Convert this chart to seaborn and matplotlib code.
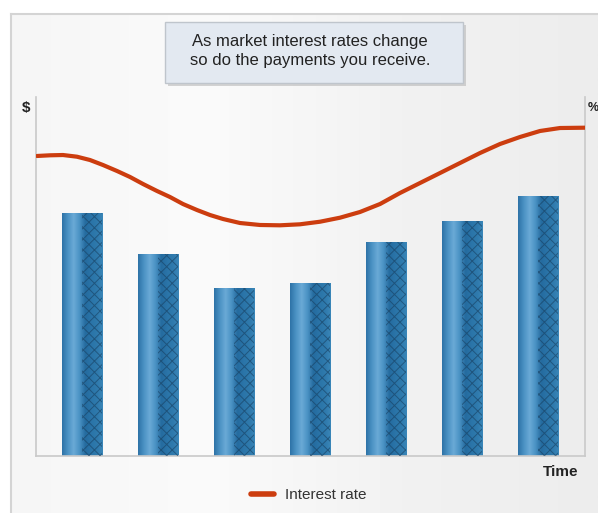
import numpy as np
import pandas as pd
import matplotlib
matplotlib.use('Agg')
import matplotlib.pyplot as plt
from matplotlib.colors import LinearSegmentedColormap
from matplotlib.patches import Rectangle
import seaborn as sns

# data
periods = ['P1', 'P2', 'P3', 'P4', 'P5', 'P6', 'P7']
payments = [6.77, 5.63, 4.68, 4.82, 5.96, 6.55, 7.24]

rate_t = [-0.592, -0.421, -0.25, -0.066, 0.105, 0.276, 0.461, 0.632, 0.803,
          0.987, 1.158, 1.329, 1.513, 1.684, 1.855, 2.079, 2.342, 2.605,
          2.868, 3.132, 3.395, 3.658, 3.921, 4.184, 4.447, 4.711, 4.974,
          5.237, 5.5, 5.763, 6.026, 6.289, 6.618]
rate_val = [8.357, 8.376, 8.384, 8.337, 8.245, 8.106, 7.939, 7.772, 7.577,
            7.382, 7.214, 7.019, 6.852, 6.713, 6.602, 6.490, 6.435, 6.426,
            6.454, 6.526, 6.638, 6.797, 7.019, 7.326, 7.604, 7.883, 8.162,
            8.440, 8.691, 8.886, 9.053, 9.136, 9.145]

sns.set_theme(style='white')
plt.rcParams['font.family'] = ['Liberation Sans', 'DejaVu Sans']
plt.rcParams['hatch.linewidth'] = 0.7

W, H = 598, 513
fig = plt.figure(figsize=(W / 100, H / 100), dpi=100)
fig.patch.set_facecolor('white')

# panel background with soft gradient
bg = fig.add_axes([11 / W, 0, 1 - 11 / W, 1 - 14 / H], zorder=-10)
grad = np.linspace(0, 1, 256).reshape(1, -1)
bg_cmap = LinearSegmentedColormap.from_list('bg', ['#f6f6f6', '#fbfbfb', '#f2f2f2', '#ededed'])
bg.imshow(grad, aspect='auto', cmap=bg_cmap, extent=[0, 1, 0, 1])
bg.set_xlim(0, 1)
bg.set_ylim(0, 1)
bg.set_xticks([])
bg.set_yticks([])
for s in ['right', 'bottom']:
    bg.spines[s].set_visible(False)
for s in ['left', 'top']:
    bg.spines[s].set_color('#d4d4d4')
    bg.spines[s].set_linewidth(1.5)

ax = fig.add_axes([36 / W, 57 / H, 549 / W, 359 / H])
ax.patch.set_alpha(0)

df = pd.DataFrame({'period': periods, 'payment': payments})
sns.barplot(data=df, x='period', y='payment', ax=ax, width=0.53,
            color='#2a75a8', saturation=1, linewidth=0)

bar_cmap = LinearSegmentedColormap.from_list(
    'bar', ['#2d72a6', '#4b92c4', '#6aaad6', '#4a92c4', '#256b9f', '#2a74a8',
            '#2f7aad', '#3a86b8'])
for p in ax.patches:
    x0, w, h = p.get_x(), p.get_width(), p.get_height()
    im = ax.imshow(grad, aspect='auto', cmap=bar_cmap,
                   extent=[x0, x0 + w, 0, h], zorder=2)
    im.set_clip_path(p)
    ax.add_patch(Rectangle((x0 + w * 0.5, 0), w * 0.5, h, facecolor='none',
                           edgecolor='#173f60', hatch='xxx', linewidth=0,
                           alpha=0.6, zorder=3))

rdf = pd.DataFrame({'t': rate_t, 'rate': rate_val})
sns.lineplot(data=rdf, x='t', y='rate', ax=ax, color='#cc3d0f', linewidth=3,
             zorder=5, legend=False)

ax.set_xlim(-0.605, 6.618)
ax.set_ylim(0, 10)
ax.set_xlabel('')
ax.set_ylabel('')
ax.set_xticks([])
ax.set_yticks([])
ax.spines['top'].set_visible(False)
for s in ['left', 'bottom', 'right']:
    ax.spines[s].set_color('#c9c9c9')
    ax.spines[s].set_linewidth(1.2)

# labels
fig.text(26 / W, 1 - 108 / H, '$', fontsize=11, fontweight='bold',
         ha='center', va='center', color='#222222')
fig.text(588 / W, 1 - 108 / H, '%', fontsize=9, fontweight='bold',
         ha='left', va='center', color='#222222')
fig.text(578 / W, 1 - 472 / H, 'Time', fontsize=11, fontweight='bold',
         ha='right', va='center', color='#222222')

# callout box with shadow
bx0, by0, bw, bh = 165, 22, 298, 61
fig.patches.append(Rectangle(((bx0 + 3) / W, 1 - (by0 + bh + 3) / H), bw / W, bh / H,
                             transform=fig.transFigure, facecolor='#b8b8b8',
                             edgecolor='none', alpha=0.6, zorder=1))
fig.patches.append(Rectangle((bx0 / W, 1 - (by0 + bh) / H), bw / W, bh / H,
                             transform=fig.transFigure, facecolor='#e3e9f1',
                             edgecolor='#bfc5cc', linewidth=1, zorder=2))
fig.text(310 / W, 1 - 51 / H,
         'As market interest rates change\nso do the payments you receive.',
         fontsize=12, ha='center', va='center', color='#222222',
         linespacing=1.35, zorder=3)

# legend
handles = [plt.Line2D([], [], color='#cc3d0f', linewidth=4, solid_capstyle='round')]
fig.legend(handles, ['Interest rate'], loc='center', frameon=False,
           bbox_to_anchor=(309 / W, 1 - 495 / H), fontsize=11,
           handlelength=1.5, handletextpad=0.7, labelcolor='#333333')

fig.savefig('out.png', dpi=100)
